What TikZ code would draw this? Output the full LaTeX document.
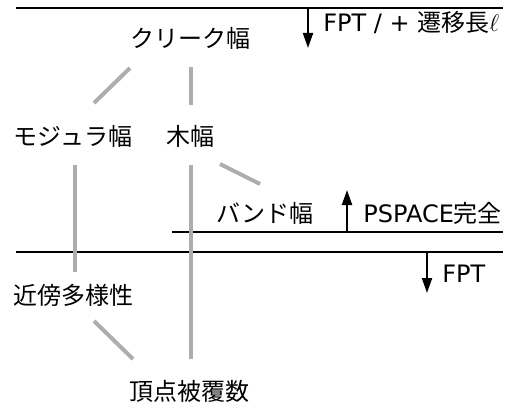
\documentclass[tikz,border=0pt]{standalone}
\usepackage{fontspec}
\setmainfont{DejaVu Sans}
\newfontfamily\jp{Noto Sans CJK JP}
\usetikzlibrary{arrows.meta,calc}
\begin{document}
\begin{tikzpicture}[x=0.5pt,y=-0.5pt,
  lbl/.style={font=\fontsize{12}{14}\selectfont, inner sep=0pt},
  jlbl/.style={lbl, font=\fontsize{12}{14}\selectfont\jp},
  bar/.style={line width=1pt, draw=black},
  gedge/.style={line width=2pt, draw=black!32},
  dir/.style={line width=1pt, -{Triangle[length=7.5pt,width=5pt]}}]
\useasboundingbox (0,0) rectangle (512,406);
% nodes
\node[jlbl] (clique) at (190,38) {クリーク幅};
\node[jlbl] (modular) at (73,136) {モジュラ幅};
\node[jlbl] (tree) at (190,136) {木幅};
\node[jlbl] (band) at (265,213) {バンド幅};
\node[jlbl] (nbd) at (73,295) {近傍多様性};
\node[jlbl] (vc) at (189,391) {頂点被覆数};
\node[lbl, anchor=base west] (fpt1) at (323,32) {FPT / + {\jp 遷移長}$\ell$};
\node[lbl, anchor=base west] (pspace) at (363,222) {PSPACE{\jp 完全}};
\node[lbl, anchor=base west] (fpt2) at (442,282) {FPT};
% horizontal lines
\coordinate (l1a) at (16,8);   \coordinate (l1b) at (503,8);
\coordinate (l2a) at (172,232); \coordinate (l2b) at (503,232);
\coordinate (l3a) at (16,252); \coordinate (l3b) at (503,252);
\draw[bar] (l1a) -- (l1b);
\draw[bar] (l2a) -- (l2b);
\draw[bar] (l3a) -- (l3b);
% arrows
\coordinate (a1s) at (308,8);   \coordinate (a1e) at (308,48);
\coordinate (a2s) at (347,232); \coordinate (a2e) at (347,190);
\coordinate (a3s) at (427,252); \coordinate (a3e) at (427,293);
\draw[dir] (a1s) -- (a1e);
\draw[dir] (a2s) -- (a2e);
\draw[dir] (a3s) -- (a3e);
% gray edges
\draw[gedge] ($(clique)+(-60,30)$) -- ($(modular)+(21,-33)$);
\draw[gedge] ($(clique)+(1,29)$) -- ($(tree)+(1,-31)$);
\draw[gedge] ($(tree)+(30,28)$) -- ($(band)+(-5,-29)$);
\draw[gedge] ($(modular)+(2,29)$) -- ($(nbd)+(2,-23)$);
\draw[gedge] ($(tree)+(1,29)$) -- ($(vc)+(2,-32)$);
\draw[gedge] ($(nbd)+(21,26)$) -- ($(vc)+(-56,-32)$);
\end{tikzpicture}
\end{document}
